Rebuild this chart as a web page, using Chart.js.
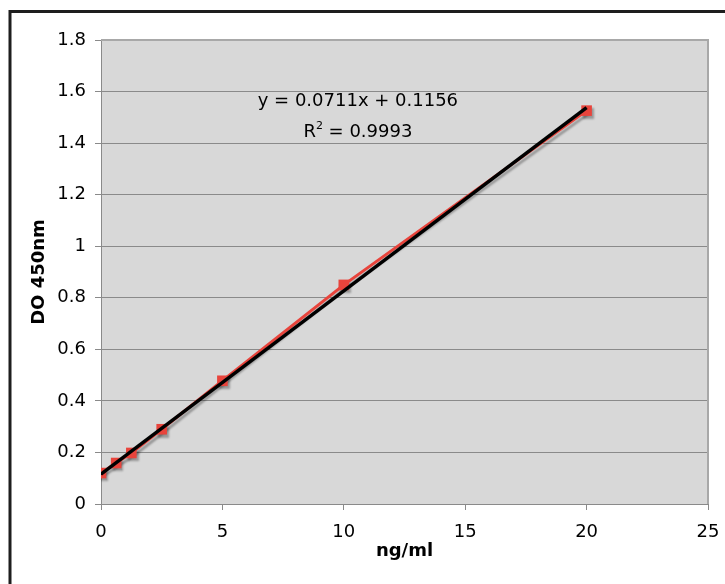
<!DOCTYPE html>
<html>
<head>
<meta charset="utf-8">
<script src="https://cdn.jsdelivr.net/npm/chart.js@4"></script>
<style>
  html, body { margin: 0; padding: 0; background: #fff; }
  canvas { display: block; }
</style>
</head>
<body>
<canvas id="standardCurveChart" width="725" height="584"></canvas>
<script>
// standard curve: concentration (ng/ml) vs OD at 450nm
const concentrations = [0, 0.625, 1.25, 2.5, 5, 10, 20];
const odValues = [0.12, 0.159, 0.198, 0.29, 0.478, 0.85, 1.526];

// linear trendline endpoints (y = 0.0711x + 0.1156)
const trendX = [0, 20];
const trendY = [0.1156, 1.5376];

const equationLines = ['y = 0.0711x + 0.1156', 'R', '2', ' = 0.9993'];

const FONT = 'DejaVu Sans, Verdana, sans-serif';

const plotFrame = {
    id: 'plotFrame',
    beforeDraw(chart) {
        const { ctx, chartArea: a } = chart;
        ctx.save();
        ctx.fillStyle = '#d8d8d8';
        ctx.fillRect(a.left, a.top, a.right - a.left, a.bottom - a.top);
        ctx.restore();
    },
    beforeDatasetsDraw(chart) {
        const { ctx, chartArea: a } = chart;
        ctx.save();
        ctx.strokeStyle = '#a8a8a8';
        ctx.lineWidth = 2;
        ctx.beginPath();
        ctx.moveTo(a.left, a.top);
        ctx.lineTo(a.right, a.top);
        ctx.lineTo(a.right, a.bottom);
        ctx.stroke();
        ctx.restore();
    },
    afterDraw(chart) {
        const { ctx, scales } = chart;
        ctx.save();
        // equation label
        ctx.fillStyle = '#000';
        ctx.font = '18px ' + FONT;
        ctx.textAlign = 'center';
        ctx.textBaseline = 'middle';
        const cx = scales.x.getPixelForValue(10.58);
        ctx.fillText(equationLines[0], cx, scales.y.getPixelForValue(1.563));
        const y2 = scales.y.getPixelForValue(1.44);
        const wR = ctx.measureText(equationLines[1]).width;
        const wRest = ctx.measureText(equationLines[3]).width;
        ctx.font = '11px ' + FONT;
        const wSup = ctx.measureText(equationLines[2]).width;
        let x0 = cx - (wR + wSup + wRest) / 2;
        ctx.textAlign = 'left';
        ctx.font = '18px ' + FONT;
        ctx.fillText(equationLines[1], x0, y2);
        ctx.font = '11px ' + FONT;
        ctx.fillText(equationLines[2], x0 + wR, y2 - 7);
        ctx.font = '18px ' + FONT;
        ctx.fillText(equationLines[3], x0 + wR + wSup, y2);

        // outer frame
        ctx.strokeStyle = '#1e1e1e';
        ctx.lineWidth = 3;
        ctx.strokeRect(10, 11.5, 1000, 1000);
        ctx.restore();
    }
};

const shadow = {
    id: 'shadow',
    beforeDatasetDraw(chart, args) {
        const ctx = chart.ctx;
        ctx.save();
        if (args.index === 1) {
            ctx.shadowColor = 'rgba(0,0,0,0.3)';
            ctx.shadowOffsetX = 2;
            ctx.shadowOffsetY = 3;
            ctx.shadowBlur = 2;
        }
    },
    afterDatasetDraw(chart) {
        chart.ctx.restore();
    }
};

new Chart(document.getElementById('standardCurveChart'), {
    type: 'scatter',
    data: {
        datasets: [
            {
                label: 'Linear',
                data: trendX.map((x, i) => ({ x, y: trendY[i] })),
                showLine: true,
                borderColor: '#000',
                borderWidth: 3.5,
                pointRadius: 0,
                order: 0
            },
            {
                label: 'OD',
                data: concentrations.map((x, i) => ({ x, y: odValues[i] })),
                showLine: true,
                borderColor: '#e8443c',
                borderWidth: 3,
                backgroundColor: '#e8443c',
                pointStyle: 'rect',
                pointRadius: 7.5,
                pointBorderWidth: 0,
                order: 1
            }
        ]
    },
    options: {
        responsive: false,
        animation: false,
        layout: { padding: { top: 40, right: 17, left: 0, bottom: 0 } },
        plugins: {
            legend: { display: false },
            tooltip: { enabled: false }
        },
        scales: {
            x: {
                type: 'linear',
                min: 0,
                max: 25,
                afterFit: s => {
                    s.height = 80;
                    s.paddingLeft = 0;
                    s.paddingRight = 0;
                },
                ticks: {
                    stepSize: 5,
                    color: '#000',
                    padding: 12,
                    font: { family: FONT, size: 18 }
                },
                grid: { drawOnChartArea: false, tickLength: 6, color: '#8a8a8a' },
                border: { color: '#8a8a8a', width: 1 },
                title: {
                    display: true,
                    text: 'ng/ml',
                    color: '#000',
                    font: { family: FONT, size: 18, weight: 'bold' },
                    padding: { top: 0, bottom: 22 }
                }
            },
            y: {
                min: 0,
                max: 1.8,
                afterFit: s => { s.width = 101; },
                ticks: {
                    stepSize: 0.2,
                    color: '#000',
                    padding: 9,
                    font: { family: FONT, size: 18 },
                    callback: v => String(+v.toFixed(1))
                },
                grid: { color: '#8a8a8a', tickLength: 6 },
                border: { color: '#8a8a8a', width: 1 },
                title: {
                    display: true,
                    text: 'DO 450nm',
                    color: '#000',
                    font: { family: FONT, size: 18, weight: 'bold' },
                    padding: { top: 29, bottom: 0 }
                }
            }
        }
    },
    plugins: [plotFrame, shadow]
});
</script>
</body>
</html>
